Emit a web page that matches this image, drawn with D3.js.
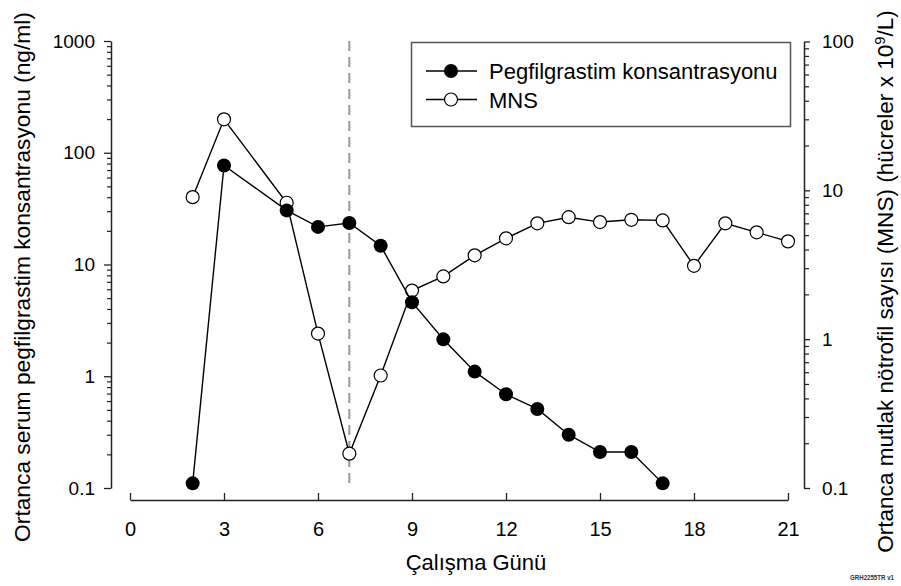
<!DOCTYPE html>
<html>
<head>
<meta charset="utf-8">
<script src="https://cdn.jsdelivr.net/npm/d3@7"></script>
<style>
  body { margin: 0; background: #fff; }
  svg { font-family: "Liberation Sans", Arial, sans-serif; }
</style>
</head>
<body>
<div id="chart"></div>
<script>
// study days and median values
var days = [2, 3, 5, 6, 7, 8, 9, 10, 11, 12, 13, 14, 15, 16, 17, 18, 19, 20, 21];
var pegDays = [2, 3, 5, 6, 7, 8, 9, 10, 11, 12, 13, 14, 15, 16, 17];
var pegValues = [0.11, 77, 30.5, 21.7, 23.5, 14.7, 4.6, 2.14, 1.1, 0.69, 0.51, 0.30, 0.21, 0.21, 0.11];
var ancValues = [9.0, 30, 8.25, 1.09, 0.17, 0.57, 2.12, 2.64, 3.66, 4.76, 6.0, 6.6, 6.12, 6.34, 6.28, 3.11, 6.0, 5.22, 4.54];
var xTicks = [0, 3, 6, 9, 12, 15, 18, 21];
var leftTicks = [0.1, 1, 10, 100, 1000];
var rightTicks = [0.1, 1, 10, 100];
var dosingDay = 7;

var width = 901, height = 586;
var svg = d3.select("#chart").append("svg").attr("width", width).attr("height", height);

var x = d3.scaleLinear().domain([0, 21]).range([130, 788]);
var yL = d3.scaleLog().domain([0.1, 1000]).range([488, 41]);
var yR = d3.scaleLog().domain([0.1, 100]).range([488, 41.5]);

function minors(majors) {
  var m = [];
  majors.slice(0, -1).forEach(d => { for (var k = 2; k <= 9; k++) m.push(+(d * k).toPrecision(3)); });
  return m;
}

function styleAxis(g) {
  g.select(".domain").attr("stroke", "#222").attr("stroke-width", 1.5);
  g.selectAll(".tick line").attr("stroke", "#222").attr("stroke-width", 1.3);
  g.selectAll(".tick text").attr("fill", "#000").attr("font-size", 19);
}

// fit a text's font size so it spans a given length
function fitText(t, target) {
  var fs = +t.attr("font-size");
  var len = t.node().getComputedTextLength();
  t.attr("font-size", (fs * target / len).toFixed(2));
}

// x axis, ticks pointing up
var gx = svg.append("g").attr("transform", "translate(0,500)")
  .call(d3.axisBottom(x).tickValues(xTicks).tickSize(-7).tickSizeOuter(0).tickPadding(22));
styleAxis(gx);
gx.selectAll(".tick text").attr("font-size", 20);

// left axis
var gl = svg.append("g").attr("transform", "translate(111,0)")
  .call(d3.axisLeft(yL).tickValues(leftTicks).tickFormat(d => d).tickSize(7).tickSizeOuter(0).tickPadding(9));
styleAxis(gl);
svg.append("g").attr("transform", "translate(111,0)")
  .call(d3.axisLeft(yL).tickValues(minors(leftTicks)).tickFormat("").tickSize(4).tickSizeOuter(0))
  .call(g => { g.select(".domain").remove(); g.selectAll(".tick line").attr("stroke", "#222").attr("stroke-width", 1.2); });

// right axis
var gr = svg.append("g").attr("transform", "translate(804,0)")
  .call(d3.axisRight(yR).tickValues(rightTicks).tickFormat(d => d).tickSize(6).tickSizeOuter(0).tickPadding(12));
styleAxis(gr);
svg.append("g").attr("transform", "translate(804,0)")
  .call(d3.axisRight(yR).tickValues(minors(rightTicks)).tickFormat("").tickSize(5).tickSizeOuter(0))
  .call(g => { g.select(".domain").remove(); g.selectAll(".tick line").attr("stroke", "#222").attr("stroke-width", 1.2); });

// dosing day reference line
svg.append("line")
  .attr("x1", x(dosingDay)).attr("x2", x(dosingDay))
  .attr("y1", yL(1000)).attr("y2", yL(0.1))
  .attr("stroke", "#999").attr("stroke-width", 2).attr("stroke-dasharray", "10,6");

// ANC series (right axis), open circles
var ancData = days.map((d, i) => ({ day: d, v: ancValues[i] }));
var lineR = d3.line().x(d => x(d.day)).y(d => yR(d.v));
svg.append("path").datum(ancData).attr("fill", "none").attr("stroke", "#000").attr("stroke-width", 1.4).attr("d", lineR);
svg.selectAll(".anc").data(ancData).enter().append("circle")
  .attr("cx", d => x(d.day)).attr("cy", d => yR(d.v)).attr("r", 6.5)
  .attr("fill", "#fff").attr("stroke", "#000").attr("stroke-width", 1.2);

// pegfilgrastim series (left axis), filled circles
var pegData = pegDays.map((d, i) => ({ day: d, v: pegValues[i] }));
var lineL = d3.line().x(d => x(d.day)).y(d => yL(d.v));
svg.append("path").datum(pegData).attr("fill", "none").attr("stroke", "#000").attr("stroke-width", 1.4).attr("d", lineL);
svg.selectAll(".peg").data(pegData).enter().append("circle")
  .attr("cx", d => x(d.day)).attr("cy", d => yL(d.v)).attr("r", 7).attr("fill", "#000");

// legend
var lg = svg.append("g");
lg.append("rect").attr("x", 411.5).attr("y", 42.5).attr("width", 379).attr("height", 84)
  .attr("fill", "#fff").attr("stroke", "#555").attr("stroke-width", 1.5);
var legendItems = [
  { label: "Pegfilgrastim konsantrasyonu", filled: true, y: 71 },
  { label: "MNS", filled: false, y: 99.5 }
];
legendItems.forEach(it => {
  lg.append("line").attr("x1", 426).attr("x2", 477).attr("y1", it.y).attr("y2", it.y)
    .attr("stroke", "#000").attr("stroke-width", 1.4);
  lg.append("circle").attr("cx", 451).attr("cy", it.y).attr("r", it.filled ? 7 : 6.5)
    .attr("fill", it.filled ? "#000" : "#fff").attr("stroke", "#000").attr("stroke-width", it.filled ? 0 : 1.2);
  lg.append("text").attr("x", 489).attr("y", it.y + 8).attr("font-size", 22).text(it.label);
});

// axis titles
svg.append("text").attr("x", 476).attr("y", 570).attr("text-anchor", "middle").attr("font-size", 22)
  .text("Çalışma Günü");
var lt = svg.append("text").attr("transform", "translate(29.5,277) rotate(-90)").attr("text-anchor", "middle")
  .attr("font-size", 21).text("Ortanca serum pegfilgrastim konsantrasyonu (ng/ml)");
fitText(lt, 530);
var rt = svg.append("text").attr("transform", "translate(893,281.5) rotate(-90)").attr("text-anchor", "middle")
  .attr("font-size", 21);
rt.append("tspan").text("Ortanca mutlak nötrofil sayısı (MNS) (hücreler x 10");
rt.append("tspan").attr("class", "sup").attr("dy", -8).attr("font-size", 14).text("9");
rt.append("tspan").attr("dy", 8).text("/L)");
fitText(rt, 543);
rt.select(".sup").attr("font-size", (+rt.attr("font-size") * 0.65).toFixed(2));

// figure code
svg.append("text").attr("x", 850).attr("y", 580).attr("font-size", 7).attr("font-weight", "bold")
  .attr("textLength", 44).attr("lengthAdjust", "spacingAndGlyphs").attr("fill", "#333").text("GRH2255TR v1");
</script>
</body>
</html>
